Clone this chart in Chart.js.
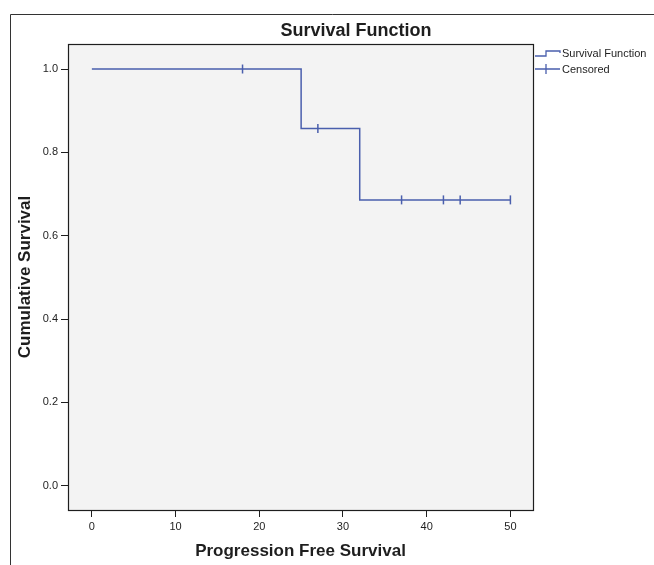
<!DOCTYPE html>
<html>
<head>
<meta charset="utf-8">
<script src="https://cdn.jsdelivr.net/npm/chart.js@4"></script>
<style>
html, body { margin: 0; padding: 0; background: #fff; }
#wrap { width: 654px; height: 565px; }
</style>
</head>
<body>
<div id="wrap"><canvas id="myChart" width="654" height="565"></canvas></div>
<script>
// Kaplan-Meier step values
const timePoints = [0, 25, 32, 50]
const survival = [1.0, 0.857, 0.686, 0.686]
const censoredTimes = [18, 27, 37, 42, 44, 50]
const censoredSurvival = [1.0, 0.857, 0.686, 0.686, 0.686, 0.686]
const xTicks = [0, 10, 20, 30, 40, 50]
const yTicks = [0.0, 0.2, 0.4, 0.6, 0.8, 1.0]

const FONT = '"Liberation Sans Narrow", "Arial Narrow", "Liberation Sans", Arial, sans-serif'
const BLUE = '#4a5fad'
const INK = '#1e1e1e'

const framePlugin = {
    id: 'frame',
    beforeDraw(chart) {
        const {ctx, chartArea: a} = chart
        ctx.save()
        ctx.fillStyle = '#f3f3f3'
        ctx.fillRect(a.left, a.top, a.right - a.left, a.bottom - a.top)
        // outer frame (top + left only)
        ctx.strokeStyle = '#333'
        ctx.lineWidth = 1
        ctx.beginPath()
        ctx.moveTo(10.5, 565)
        ctx.lineTo(10.5, 14.5)
        ctx.lineTo(654, 14.5)
        ctx.stroke()
        ctx.restore()
    },
    afterDraw(chart) {
        const {ctx, chartArea: a} = chart
        ctx.save()
        ctx.strokeStyle = INK
        ctx.lineWidth = 1.2
        ctx.strokeRect(a.left + 0.5, a.top + 0.5, a.right - a.left, a.bottom - a.top)

        // title
        ctx.fillStyle = INK
        ctx.font = 'bold 18px ' + FONT
        ctx.textAlign = 'center'
        ctx.textBaseline = 'middle'
        ctx.fillText('Survival Function', 356, 31)

        // legend
        ctx.strokeStyle = BLUE
        ctx.lineWidth = 1.3
        ctx.beginPath()
        ctx.moveTo(535, 56)
        ctx.lineTo(546, 56)
        ctx.lineTo(546, 51)
        ctx.lineTo(560, 51)
        ctx.lineTo(560, 53)
        ctx.stroke()
        ctx.beginPath()
        ctx.moveTo(535, 69)
        ctx.lineTo(560, 69)
        ctx.moveTo(546, 64)
        ctx.lineTo(546, 74)
        ctx.stroke()
        ctx.fillStyle = INK
        ctx.font = '11px ' + FONT
        ctx.textAlign = 'left'
        ctx.fillText('Survival Function', 562, 54)
        ctx.fillText('Censored', 562, 70)
        ctx.restore()
    }
}

const ctx = document.getElementById('myChart')
new Chart(ctx, {
    type: 'scatter',
    data: {
        datasets: [{
            type: 'line',
            label: 'Survival Function',
            data: timePoints.map((t, i) => ({x: t, y: survival[i]})),
            stepped: 'before',
            borderColor: BLUE,
            borderWidth: 1.5,
            pointRadius: 0,
            fill: false
        }, {
            label: 'Censored',
            data: censoredTimes.map((t, i) => ({x: t, y: censoredSurvival[i]})),
            pointStyle: 'line',
            rotation: 90,
            pointRadius: 4.5,
            borderColor: BLUE,
            backgroundColor: BLUE,
            borderWidth: 1.5
        }]
    },
    options: {
        responsive: false,
        animation: false,
        layout: { padding: { top: 44, right: 121, left: 0, bottom: 0 } },
        plugins: {
            legend: { display: false },
            tooltip: { enabled: false },
            title: { display: false }
        },
        scales: {
            x: {
                type: 'linear',
                min: -2.85,
                max: 52.7,
                afterBuildTicks: s => { s.ticks = xTicks.map(v => ({value: v})) },
                afterFit: s => { s.height = 55 },
                grid: { drawOnChartArea: false, tickLength: 7, color: INK },
                border: { display: false },
                ticks: { color: INK, padding: 3, font: { family: FONT, size: 11 } },
                title: {
                    display: true,
                    text: 'Progression Free Survival',
                    color: INK,
                    font: { family: FONT, size: 17, weight: 'bold' },
                    padding: { top: 0, bottom: 3 }
                }
            },
            y: {
                min: -0.058,
                max: 1.06,
                afterBuildTicks: s => { s.ticks = yTicks.map(v => ({value: v})) },
                afterFit: s => { s.width = 68 },
                grid: { drawOnChartArea: false, tickLength: 7, color: INK },
                border: { display: false },
                ticks: {
                    color: INK, padding: 3, font: { family: FONT, size: 11 },
                    callback: v => v.toFixed(1)
                },
                title: {
                    display: true,
                    text: 'Cumulative Survival',
                    color: INK,
                    font: { family: FONT, size: 17, weight: 'bold' },
                    padding: { top: 15, bottom: 0 }
                }
            }
        }
    },
    plugins: [framePlugin]
})
</script>
</body>
</html>
